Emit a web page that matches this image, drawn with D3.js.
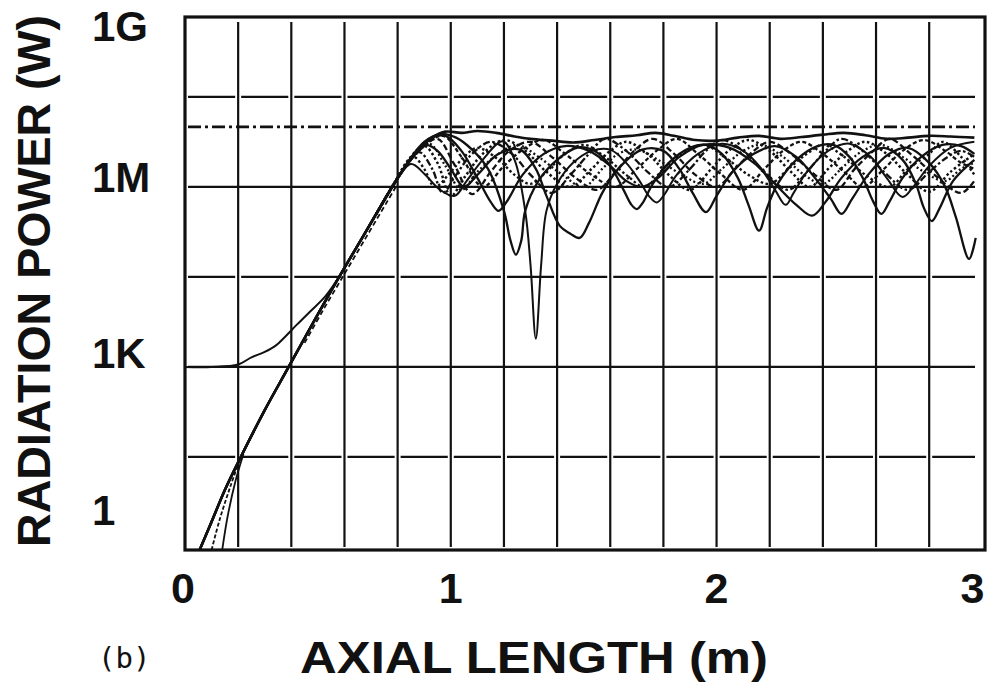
<!DOCTYPE html>
<html>
<head>
<meta charset="utf-8">
<script src="https://cdn.jsdelivr.net/npm/d3@7"></script>
<style>
  body { margin: 0; background: #fff; }
  svg { display: block; font-family: "Liberation Sans", Arial, sans-serif; }
</style>
</head>
<body>
<svg width="996" height="684"></svg>
<script>
// grid + tick values
const gridX = [0.2, 0.4, 0.6, 0.8, 1.0, 1.2, 1.4, 1.6, 1.8, 2.0, 2.2, 2.4, 2.6, 2.8];
const gridSolid = [1e3, 1e6];
const gridDashed = [10 ** 1.5, 10 ** 4.5, 10 ** 7.5];
const saturation = 1e7;
const xTicks = [0, 1, 2, 3];
const yTicks = [1e9, 1e6, 1e3, 1];
const yTickLabels = ["1G", "1M", "1K", "1"];

// curves: [axial length (m), log10 power (W)]
const growth = [[0.055, -0.05], [0.1, 0.42], [0.15, 0.95], [0.21, 1.5], [0.3, 2.28], [0.39, 3.0],
  [0.48, 3.72], [0.58, 4.5], [0.68, 5.25], [0.78, 6.0]];

const solidA = growth.concat([[0.83, 6.35], [0.88, 6.62], [0.93, 6.82], [0.98, 6.92], [1.04, 6.9],
  [1.1, 6.93], [1.17, 6.9], [1.24, 6.84], [1.3, 6.8], [1.38, 6.77], [1.46, 6.74], [1.54, 6.78],
  [1.62, 6.83], [1.7, 6.86], [1.77, 6.9], [1.84, 6.85], [1.92, 6.78], [2.0, 6.77], [2.08, 6.82],
  [2.16, 6.85], [2.24, 6.8], [2.32, 6.83], [2.4, 6.87], [2.48, 6.9], [2.56, 6.86], [2.64, 6.8],
  [2.72, 6.82], [2.8, 6.85], [2.88, 6.84], [2.97, 6.82]]);

const solidB = growth.concat([[0.84, 6.42], [0.9, 6.75], [0.96, 6.88], [1.02, 6.82], [1.08, 6.62],
  [1.14, 6.3], [1.2, 5.6], [1.225, 5.1], [1.245, 4.87], [1.265, 5.1], [1.28, 5.6], [1.33, 6.1],
  [1.4, 6.45], [1.48, 6.66], [1.54, 6.6], [1.6, 6.35], [1.65, 5.95], [1.68, 5.7], [1.7, 5.63],
  [1.72, 5.72], [1.76, 6.05], [1.82, 6.4], [1.9, 6.65], [1.96, 6.7], [2.02, 6.55], [2.08, 6.15],
  [2.12, 5.7], [2.16, 5.27], [2.19, 5.65], [2.23, 6.05], [2.3, 6.45], [2.38, 6.68], [2.44, 6.7],
  [2.5, 6.5], [2.55, 6.15], [2.59, 5.75], [2.62, 5.55], [2.65, 5.75], [2.7, 6.15], [2.77, 6.5],
  [2.85, 6.7], [2.92, 6.68], [2.97, 6.55]]);

const solidC = [[0, 3.0], [0.1, 3.0], [0.2, 3.04], [0.25, 3.16], [0.3, 3.25], [0.34, 3.35],
  [0.376, 3.5], [0.42, 3.7], [0.47, 3.92], [0.527, 4.17], [0.58, 4.5], [0.68, 5.25], [0.78, 6.0],
  [0.85, 6.38], [0.9, 6.22], [0.96, 5.95], [1.015, 5.85], [1.06, 6.1], [1.12, 6.45], [1.195, 6.76],
  [1.24, 6.45], [1.28, 5.6], [1.3, 4.7], [1.32, 3.47], [1.34, 4.7], [1.36, 5.6], [1.4, 6.05],
  [1.46, 6.4], [1.53, 6.6], [1.6, 6.62], [1.66, 6.4], [1.71, 6.1], [1.745, 5.85], [1.775, 5.74],
  [1.8, 5.85], [1.85, 6.2], [1.93, 6.55], [2.02, 6.72], [2.1, 6.6], [2.16, 6.35], [2.22, 5.95],
  [2.26, 5.7], [2.29, 5.9], [2.34, 6.25], [2.42, 6.6], [2.5, 6.72], [2.58, 6.5], [2.64, 6.15],
  [2.7, 5.83], [2.74, 6.0], [2.8, 6.35], [2.88, 6.65], [2.97, 6.75]];

const solidD = growth.concat([[0.84, 6.4], [0.9, 6.7], [0.95, 6.6], [1.0, 6.3], [1.05, 6.0],
  [1.1, 6.2], [1.18, 6.55], [1.26, 6.62], [1.32, 6.3], [1.36, 5.85], [1.41, 5.35], [1.45, 5.22],
  [1.485, 5.15], [1.52, 5.4], [1.57, 5.9], [1.63, 6.3], [1.72, 6.62], [1.8, 6.6], [1.86, 6.3],
  [1.91, 5.9], [1.96, 5.58], [2.0, 5.85], [2.06, 6.25], [2.14, 6.55], [2.22, 6.68], [2.3, 6.5],
  [2.37, 6.15], [2.43, 5.8], [2.47, 5.55], [2.51, 5.8], [2.57, 6.2], [2.65, 6.55], [2.72, 6.65],
  [2.8, 6.4], [2.86, 6.0], [2.9, 5.5], [2.95, 4.8], [2.975, 5.15]]);

const solidE = growth.concat([[0.85, 6.45], [0.92, 6.8], [0.98, 6.85], [1.04, 6.6], [1.1, 6.15],
  [1.15, 5.75], [1.18, 5.6], [1.21, 5.75], [1.27, 6.2], [1.35, 6.55], [1.43, 6.68], [1.52, 6.6],
  [1.6, 6.35], [1.66, 6.1], [1.72, 6.0], [1.78, 6.15], [1.86, 6.5], [1.95, 6.7], [2.05, 6.65],
  [2.14, 6.4], [2.22, 6.05], [2.3, 5.7], [2.36, 5.52], [2.41, 5.75], [2.47, 6.15], [2.55, 6.5],
  [2.63, 6.65], [2.7, 6.45], [2.75, 6.05], [2.78, 5.65], [2.81, 5.43], [2.84, 5.65], [2.89, 6.1],
  [2.97, 6.45]]);

const dotted1 = [[0.72, 5.55], [0.78, 6.0], [0.84, 6.45], [0.9, 6.68], [0.95, 6.4], [1.0, 5.85],
  [1.05, 6.15], [1.12, 6.55], [1.2, 6.78], [1.28, 6.6], [1.36, 6.25], [1.45, 6.0], [1.53, 6.3],
  [1.6, 6.6], [1.66, 6.75], [1.74, 6.55], [1.82, 6.2], [1.9, 5.95], [1.98, 6.3], [2.05, 6.62],
  [2.12, 6.78], [2.2, 6.6], [2.28, 6.25], [2.35, 6.0], [2.42, 6.3], [2.5, 6.62], [2.56, 6.75],
  [2.64, 6.55], [2.72, 6.2], [2.8, 5.92], [2.88, 6.25], [2.97, 6.55]];

const dashed2 = [[0.72, 5.55], [0.8, 6.15], [0.88, 6.6], [0.95, 6.8], [1.01, 6.4], [1.08, 5.88],
  [1.15, 6.25], [1.22, 6.6], [1.3, 6.75], [1.38, 6.5], [1.47, 6.15], [1.55, 5.95], [1.62, 6.25],
  [1.69, 6.6], [1.76, 6.8], [1.84, 6.55], [1.92, 6.2], [2.0, 6.0], [2.07, 6.3], [2.14, 6.6],
  [2.2, 6.75], [2.28, 6.55], [2.37, 6.2], [2.45, 5.95], [2.52, 6.3], [2.59, 6.6], [2.65, 6.8],
  [2.73, 6.55], [2.82, 6.2], [2.92, 5.9], [2.97, 6.1]];

const dashDot3 = [[0.72, 5.55], [0.8, 6.15], [0.88, 6.58], [0.93, 6.3], [0.97, 5.9], [1.02, 6.2],
  [1.08, 6.55], [1.15, 6.75], [1.23, 6.55], [1.3, 6.2], [1.38, 5.9], [1.45, 6.2], [1.52, 6.55],
  [1.58, 6.8], [1.66, 6.6], [1.74, 6.25], [1.82, 6.0], [1.9, 6.3], [1.96, 6.6], [2.02, 6.78],
  [2.1, 6.6], [2.18, 6.25], [2.27, 5.95], [2.34, 6.25], [2.41, 6.6], [2.47, 6.8], [2.55, 6.6],
  [2.63, 6.25], [2.72, 5.95], [2.8, 6.25], [2.87, 6.5], [2.92, 6.6], [2.97, 6.5]];

const dotted4 = [[0.72, 5.55], [0.8, 6.15], [0.87, 6.55], [0.92, 6.72], [0.98, 6.35], [1.04, 5.95],
  [1.1, 6.25], [1.18, 6.55], [1.25, 6.7], [1.33, 6.5], [1.42, 6.2], [1.5, 6.0], [1.57, 6.3],
  [1.63, 6.55], [1.7, 6.62], [1.78, 6.45], [1.87, 6.2], [1.95, 6.05], [2.02, 6.3], [2.1, 6.6],
  [2.17, 6.7], [2.25, 6.5], [2.33, 6.2], [2.4, 6.05], [2.48, 6.35], [2.55, 6.6], [2.62, 6.7],
  [2.7, 6.5], [2.78, 6.25], [2.86, 6.1], [2.92, 6.3], [2.97, 6.4]];

const dashed5 = [[0.72, 5.55], [0.8, 6.15], [0.88, 6.6], [0.97, 6.85], [1.04, 6.5], [1.12, 6.0],
  [1.2, 6.35], [1.28, 6.65], [1.35, 6.78], [1.43, 6.55], [1.53, 6.2], [1.62, 6.0], [1.7, 6.3],
  [1.78, 6.62], [1.85, 6.8], [1.93, 6.55], [2.02, 6.2], [2.1, 5.95], [2.18, 6.3], [2.25, 6.6],
  [2.32, 6.75], [2.4, 6.55], [2.48, 6.25], [2.55, 6.0], [2.63, 6.3], [2.7, 6.6], [2.78, 6.78],
  [2.86, 6.6], [2.92, 6.4], [2.97, 6.3]];

const dotted6 = [[0.72, 5.55], [0.78, 6.0], [0.82, 6.3], [0.86, 6.5], [0.9, 6.3], [0.94, 6.0],
  [1.0, 6.25], [1.05, 6.5], [1.1, 6.65], [1.18, 6.45], [1.24, 6.2], [1.3, 6.05], [1.37, 6.3],
  [1.43, 6.55], [1.5, 6.7], [1.58, 6.5], [1.66, 6.2], [1.73, 6.0], [1.8, 6.3], [1.87, 6.55],
  [1.95, 6.7], [2.03, 6.5], [2.12, 6.2], [2.2, 6.05], [2.27, 6.3], [2.34, 6.55], [2.4, 6.7],
  [2.48, 6.5], [2.56, 6.2], [2.65, 6.0], [2.72, 6.3], [2.8, 6.55], [2.85, 6.75], [2.92, 6.5],
  [2.97, 6.2]];

// extra start-up traces near the origin
const early1 = [[0.1, -0.05], [0.13, 0.45], [0.17, 1.0], [0.21, 1.5]];
const early2 = [[0.14, -0.05], [0.16, 0.5], [0.19, 1.1], [0.22, 1.55]];
const early3 = [[0.45, 3.4], [0.52, 3.95], [0.6, 4.55], [0.68, 5.15], [0.76, 5.75], [0.8, 6.05]];

const series = [
  { data: dotted6, dash: "2.5,2.5", w: 2.4 },
  { data: dotted4, dash: "2,2.5", w: 2.3 },
  { data: dashed5, dash: "4,2.5", w: 2.3 },
  { data: dashDot3, dash: "7,2.5,2.5,2.5", w: 2.3 },
  { data: dashed2, dash: "6,3", w: 2.3 },
  { data: dotted1, dash: "2.5,2.5", w: 2.5 },
  { data: early1, dash: "4,2", w: 1.8 },
  { data: early2, dash: null, w: 1.8 },
  { data: early3, dash: "5,3", w: 1.8 },
  { data: solidE, dash: null, w: 2.3 },
  { data: solidD, dash: null, w: 2.3 },
  { data: solidC, dash: null, w: 2 },
  { data: solidB, dash: null, w: 2.3 },
  { data: solidA, dash: null, w: 2.6 }
];

const svg = d3.select("svg");
const ink = "#111";

const x = d3.scaleLinear().domain([0, 3.01]).range([185, 985]);
const y = d3.scaleLog().domain([10 ** -0.05, 10 ** 8.83]).range([550, 17]);
const [plotLeft, plotRight] = x.range();
const [plotBottom, plotTop] = y.range();

svg.append("rect").attr("width", 996).attr("height", 684).attr("fill", "#fff");

svg.append("clipPath").attr("id", "plot")
  .append("rect")
  .attr("x", plotLeft).attr("y", plotTop)
  .attr("width", plotRight - plotLeft).attr("height", plotBottom - plotTop);

// vertical grid
svg.append("g")
  .selectAll("line")
  .data(gridX)
  .join("line")
  .attr("x1", d => x(d)).attr("x2", d => x(d))
  .attr("y1", plotTop + 5).attr("y2", plotBottom - 3)
  .attr("stroke", ink).attr("stroke-width", 2.2);

const hStart = plotLeft + 3;
const hEnd = plotRight - 10;
const step = x(0.2) - x(0);

svg.append("g")
  .selectAll("line")
  .data(gridSolid)
  .join("line")
  .attr("x1", hStart).attr("x2", hEnd)
  .attr("y1", d => y(d)).attr("y2", d => y(d))
  .attr("stroke", ink).attr("stroke-width", 2.2);

svg.append("g")
  .selectAll("line")
  .data(gridDashed)
  .join("line")
  .attr("x1", hStart).attr("x2", hEnd)
  .attr("y1", d => y(d)).attr("y2", d => y(d))
  .attr("stroke", ink).attr("stroke-width", 2.2)
  .attr("stroke-dasharray", `${step - 6} 6`);

svg.append("line")
  .attr("x1", hStart).attr("x2", hEnd)
  .attr("y1", y(saturation)).attr("y2", y(saturation))
  .attr("stroke", ink).attr("stroke-width", 2.6)
  .attr("stroke-dasharray", "13,4,3,4");

// curves
const line = d3.line()
  .x(d => x(d[0]))
  .y(d => y(10 ** d[1]))
  .curve(d3.curveCatmullRom.alpha(0.5));

svg.append("g")
  .attr("clip-path", "url(#plot)")
  .selectAll("path")
  .data(series)
  .join("path")
  .attr("d", d => line(d.data))
  .attr("fill", "none")
  .attr("stroke", ink)
  .attr("stroke-width", d => d.w)
  .attr("stroke-dasharray", d => d.dash)
  .attr("stroke-linejoin", "round");

// frame
svg.append("rect")
  .attr("x", plotLeft).attr("y", plotTop)
  .attr("width", plotRight - plotLeft).attr("height", plotBottom - plotTop)
  .attr("fill", "none").attr("stroke", ink).attr("stroke-width", 3.2);

// tick labels
const yNudge = [19, -10, -14, -37];
svg.append("g")
  .selectAll("text")
  .data(yTicks)
  .join("text")
  .attr("x", 92)
  .attr("y", (d, i) => y(d) + yNudge[i])
  .attr("dy", "0.36em")
  .attr("font-size", 42).attr("font-weight", "bold").attr("fill", ink)
  .text((d, i) => yTickLabels[i]);

const xNudge = [-2, 0, 0, -10];
svg.append("g")
  .selectAll("text")
  .data(xTicks)
  .join("text")
  .attr("x", (d, i) => x(d) + xNudge[i])
  .attr("y", plotBottom + 53)
  .attr("text-anchor", "middle")
  .attr("font-size", 43).attr("font-weight", "bold").attr("fill", ink)
  .text(d => d);

// axis titles
svg.append("text")
  .attr("transform", "translate(50,281) rotate(-90)")
  .attr("text-anchor", "middle")
  .attr("font-size", 46).attr("font-weight", "bold").attr("fill", ink)
  .attr("textLength", 532).attr("lengthAdjust", "spacingAndGlyphs")
  .text("RADIATION POWER (W)");

svg.append("text")
  .attr("x", 300).attr("y", 673)
  .attr("font-size", 45).attr("font-weight", "bold").attr("fill", ink)
  .attr("textLength", 468).attr("lengthAdjust", "spacingAndGlyphs")
  .text("AXIAL LENGTH  (m)");

svg.append("text")
  .attr("x", 98).attr("y", 668)
  .attr("font-family", "DejaVu Sans Mono, monospace")
  .attr("font-size", 29).attr("fill", ink)
  .text("(b)");
</script>
</body>
</html>
